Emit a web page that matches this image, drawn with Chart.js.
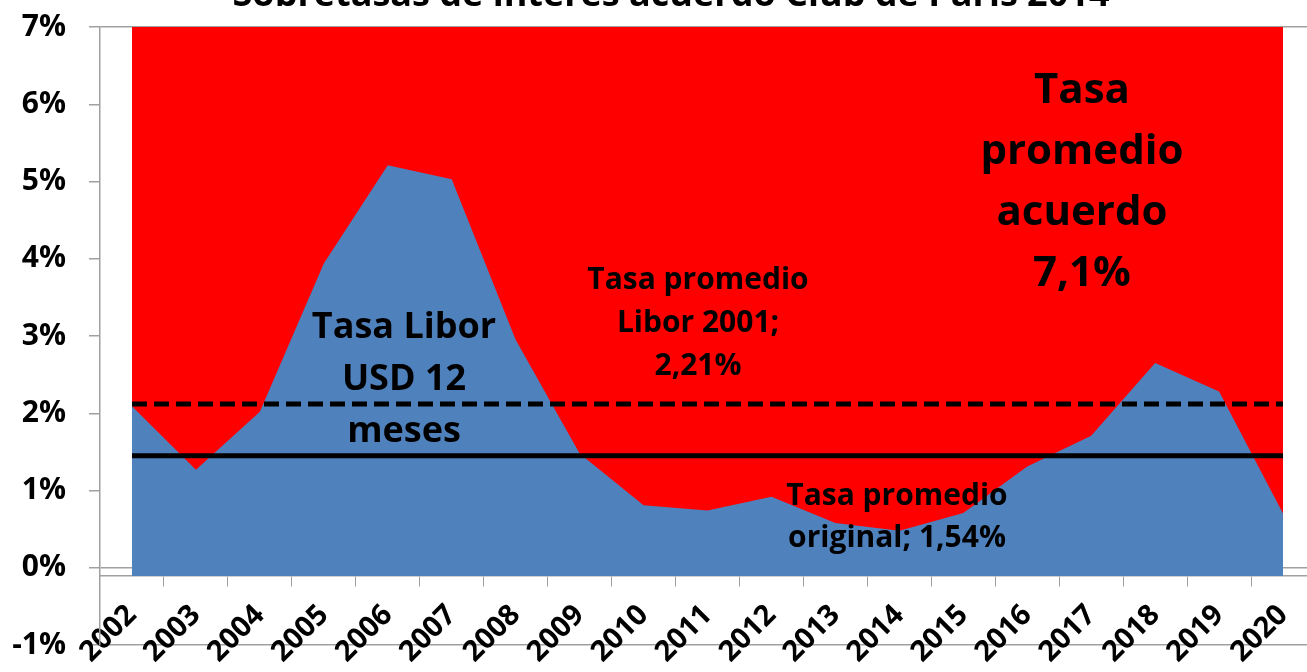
<!DOCTYPE html>
<html>
<head>
<meta charset="utf-8">
<script src="https://cdn.jsdelivr.net/npm/chart.js@4.4.1/dist/chart.umd.min.js"></script>
<style>
  html, body { margin: 0; padding: 0; background: #fff; overflow: hidden; }
  #wrap { width: 1322px; height: 672px; position: relative; }
</style>
</head>
<body>
<div id="wrap"><canvas id="chart"></canvas></div>
<script>
// data
const years = ['2002', '2003', '2004', '2005', '2006', '2007', '2008', '2009', '2010', '2011',
  '2012', '2013', '2014', '2015', '2016', '2017', '2018', '2019', '2020'];
const libor12m = [2.09, 1.27, 2.02, 3.94, 5.21, 5.03, 2.95, 1.48, 0.81, 0.74,
  0.92, 0.58, 0.48, 0.71, 1.31, 1.71, 2.65, 2.28, 0.70];
const tasaAcuerdo = years.map(() => 7.1);
const liborProm2001 = years.map(() => 2.12);
const tasaOriginal = years.map(() => 1.45);
const axisBase = -0.107;   // where the category axis crosses
const yTicks = [-1, 0, 1, 2, 3, 4, 5, 6, 7];

const FONT = '"Open Sans", "DejaVu Sans", sans-serif';
const GRAY = '#a0a0a0';

// text boxes and the (cut off) title
const notes = {
  id: 'notes',
  afterDatasetsDraw(chart) {
    const ctx = chart.ctx;
    ctx.save();
    ctx.fillStyle = '#000';
    ctx.textAlign = 'center';
    ctx.textBaseline = 'alphabetic';
    const block = (lines, x, y, step, size) => {
      ctx.font = 'bold ' + size + 'px ' + FONT;
      lines.forEach((t, i) => ctx.fillText(t, x, y + i * step));
    };
    block(['Tasa Libor', 'USD 12', 'meses'], 404, 338, 52, 36);
    block(['Tasa promedio', 'Libor 2001;', '2,21%'], 698, 289, 43, 30);
    block(['Tasa promedio', 'original; 1,54%'], 897, 505, 42, 30);
    block(['Tasa', 'promedio', 'acuerdo', '7,1%'], 1082, 103, 61, 42);
    block(['Sobretasas de interés acuerdo Club de París 2014'], 671, 6, 0, 36);
    ctx.restore();
  }
};

new Chart(document.getElementById('chart'), {
  type: 'line',
  data: {
    labels: years,
    datasets: [
      {
        label: 'Tasa promedio acuerdo',
        data: tasaAcuerdo,
        backgroundColor: '#ff0000',
        borderWidth: 0,
        pointRadius: 0,
        fill: { value: axisBase },
        order: 4
      },
      {
        label: 'Tasa Libor USD 12 meses',
        data: libor12m,
        backgroundColor: '#4f81bd',
        borderWidth: 0,
        pointRadius: 0,
        fill: { value: axisBase },
        order: 3
      },
      {
        label: 'Tasa promedio Libor 2001',
        data: liborProm2001,
        borderColor: '#000',
        borderWidth: 5,
        borderDash: [15, 7],
        pointRadius: 0,
        fill: false,
        order: 2
      },
      {
        label: 'Tasa promedio original',
        data: tasaOriginal,
        borderColor: '#000',
        borderWidth: 5,
        pointRadius: 0,
        fill: false,
        order: 1
      }
    ]
  },
  options: {
    responsive: true,
    maintainAspectRatio: false,
    animation: false,
    layout: { padding: { top: 27, bottom: 27, left: 0, right: 7 } },
    plugins: {
      legend: { display: false },
      tooltip: { enabled: false }
    },
    scales: {
      x: {
        type: 'category',
        position: { y: axisBase },
        offset: true,
        afterFit: (s) => { s.paddingLeft = 0; s.paddingRight = 0; },
        grid: {
          offset: true,
          drawOnChartArea: false,
          tickLength: 10,
          color: GRAY
        },
        border: { display: true, color: GRAY, width: 1.5 },
        ticks: {
          autoSkip: false,
          minRotation: 45,
          maxRotation: 45,
          padding: 12,
          color: '#000',
          font: { family: FONT, size: 29, weight: 'bold' }
        }
      },
      y: {
        min: -1,
        max: 7,
        afterBuildTicks: (s) => { s.ticks = yTicks.map(v => ({ value: v })); },
        afterFit: (s) => { s.width = 100; s.paddingTop = 0; s.paddingBottom = 0; },
        grid: {
          tickLength: 11,
          color: (c) => (c.tick && [7, 0, -1].includes(c.tick.value)) ? GRAY : 'rgba(0,0,0,0)',
          tickColor: GRAY,
          lineWidth: 1.5
        },
        border: { display: true, color: GRAY, width: 1.5 },
        ticks: {
          padding: 23,
          color: '#000',
          font: { family: FONT, size: 30, weight: 'bold' },
          callback: (v) => v + '%'
        }
      }
    }
  },
  plugins: [notes]
});
</script>
</body>
</html>
